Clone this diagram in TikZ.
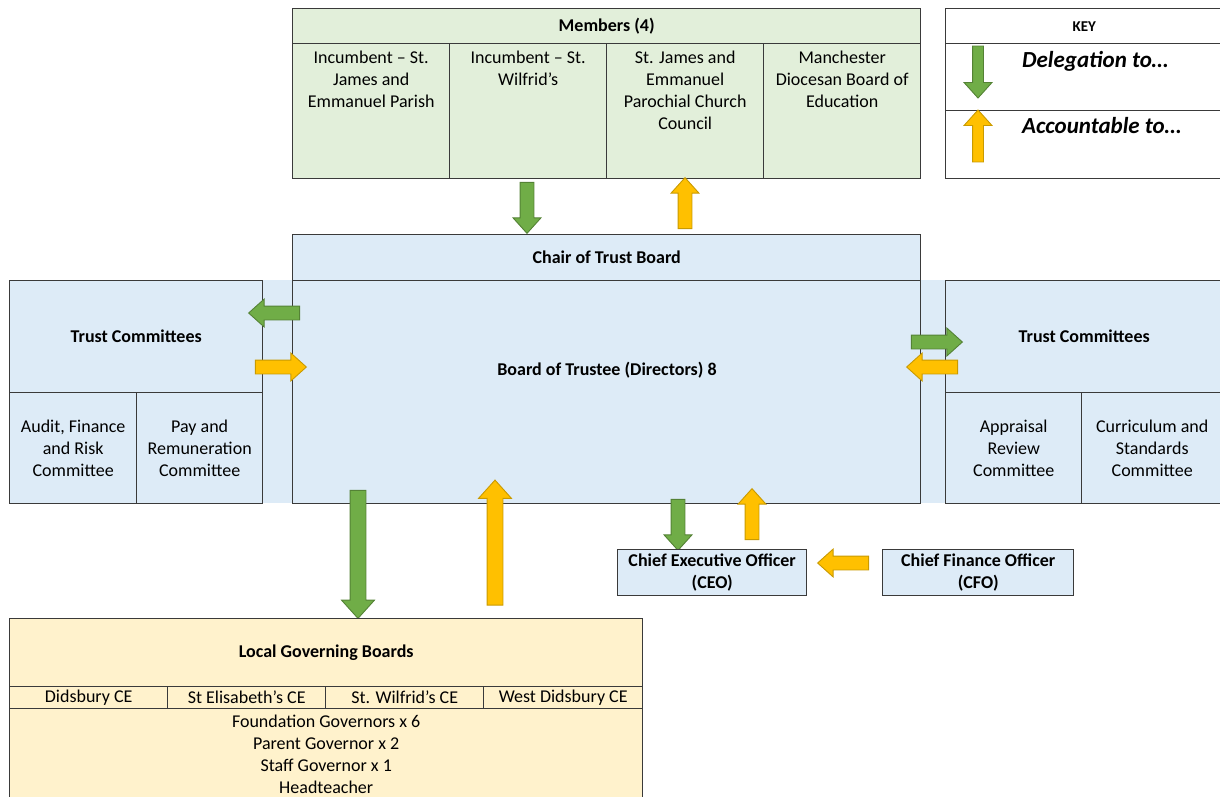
\documentclass[tikz,border=0pt]{standalone}
\usepackage{fontspec}
\setmainfont{Carlito}
\usetikzlibrary{shapes.arrows, positioning}

\definecolor{memgreen}{HTML}{E2EFDA}
\definecolor{trustblue}{HTML}{DDEBF7}
\definecolor{lgbyellow}{HTML}{FFF2CC}
\definecolor{delgreen}{HTML}{70AD47}
\definecolor{delgreenline}{HTML}{548235}
\definecolor{accorange}{HTML}{FFC000}
\definecolor{accorangeline}{HTML}{C99A00}
\definecolor{ruleline}{HTML}{3A3A3A}

\begin{document}
\begin{tikzpicture}[
  x=1pt, y=-1pt,
  font=\fontsize{18}{22}\selectfont,
  cell/.style={rectangle, draw=ruleline, line width=1.4pt, anchor=north west, inner sep=0pt},
  hdr/.style={font=\fontsize{18}{22}\selectfont\bfseries, align=center},
  txt/.style={align=center, inner sep=0pt},
  fat/.style={single arrow, single arrow tip angle=84, inner xsep=0pt, minimum width=0pt, line width=0.9pt},
  dele/.style={fat, fill=delgreen, draw=delgreenline},
  acc/.style={fat, fill=accorange, draw=accorangeline},
  small/.style={inner ysep=6.5pt, single arrow head extend=7pt, minimum height=51pt},
  big/.style={inner ysep=7.5pt, single arrow head extend=8.5pt},
  keyarr/.style={inner ysep=5pt, single arrow head extend=8.5pt, minimum height=52pt},
  keytxt/.style={font=\fontsize{23}{26}\selectfont\bfseries\itshape, inner sep=0pt, anchor=base west}
]
\useasboundingbox (0,0) rectangle (1220,796);

% band behind the trust board row
\fill[trustblue] (9,280) rectangle (1222,503);

% members
\node[cell, hdr, fill=memgreen, minimum width=628, minimum height=35] (members) at (292,8) {Members (4)};
\node[cell, fill=memgreen, minimum width=157, minimum height=135] (mem1) at (292,43) {};
\node[cell, fill=memgreen, minimum width=157, minimum height=135] (mem2) at (449,43) {};
\node[cell, fill=memgreen, minimum width=157, minimum height=135] (mem3) at (606,43) {};
\node[cell, fill=memgreen, minimum width=157, minimum height=135] (mem4) at (763,43) {};
\node[txt, below=7.5pt of mem1.north] (mem1txt) {Incumbent – St.\\James and\\Emmanuel Parish};
\node[txt, below=7.5pt of mem2.north] (mem2txt) {Incumbent – St.\\Wilfrid’s};
\node[txt, below=7.5pt of mem3.north] (mem3txt) {St. James and\\Emmanuel\\Parochial Church\\Council};
\node[txt, below=7.5pt of mem4.north] (mem4txt) {Manchester\\Diocesan Board of\\Education};

% key
\node[cell, font=\fontsize{15}{18}\selectfont\bfseries, minimum width=277, minimum height=35] (key) at (945,8) {KEY};
\node[cell, minimum width=277, minimum height=67] (keydel) at (945,43) {};
\node[cell, minimum width=277, minimum height=68] (keyacc) at (945,110) {};
\node[dele, keyarr, rotate=-90] (keydown) at (978,69) {};
\node[acc, keyarr, rotate=90] (keyup) at (978,139) {};
\node[keytxt] (keydeltxt) at (1022,67) {Delegation to…};
\node[keytxt] (keyacctxt) at (1022,133) {Accountable to…};

% members <-> chair
\node[dele, small, rotate=-90] (memdown) at (527,204) {};
\node[acc, small, rotate=90] (memup) at (685,207) {};

% trust board
\node[cell, hdr, fill=trustblue, minimum width=628, minimum height=46] (chair) at (292,234) {Chair of Trust Board};
\node[cell, fill=trustblue, minimum width=628, minimum height=223] (board) at (292,280) {};
\node[hdr] (boardtxt) at (607,370) {Board of Trustee (Directors) 8};

% committees, left
\node[cell, hdr, fill=trustblue, minimum width=253, minimum height=112] (tcleft) at (9,280) {Trust Committees};
\node[cell, txt, fill=trustblue, minimum width=127, minimum height=111] (audit) at (9,392) {Audit, Finance\\and Risk\\Committee};
\node[cell, txt, fill=trustblue, minimum width=126, minimum height=111] (payrem) at (136,392) {Pay and\\Remuneration\\Committee};

% committees, right
\node[cell, hdr, fill=trustblue, minimum width=277, minimum height=112] (tcright) at (945,280) {Trust Committees};
\node[cell, txt, fill=trustblue, minimum width=136, minimum height=111] (appraisal) at (945,392) {Appraisal\\Review\\Committee};
\node[cell, txt, fill=trustblue, minimum width=141, minimum height=111] (curric) at (1081,392) {Curriculum and\\Standards\\Committee};

% board <-> committees
\node[dele, small, rotate=180] (toleft) at (278,313) {};
\node[acc, small] (fromleft) at (277,367) {};
\node[dele, small] (toright) at (933,342) {};
\node[acc, small, rotate=180] (fromright) at (936,367) {};

% board <-> local boards
\node[dele, big, minimum height=128, rotate=-90] (tolgb) at (358,550) {};
\node[acc, big, minimum height=125, rotate=90] (fromlgb) at (495,547) {};

% officers
\node[dele, small, rotate=-90] (toceo) at (678,521) {};
\node[acc, small, rotate=90] (fromceo) at (752,518) {};
\node[cell, hdr, fill=trustblue, minimum width=189, minimum height=46] (ceo) at (617,549) {Chief Executive Officer\\(CEO)};
\node[cell, hdr, fill=trustblue, minimum width=191, minimum height=46] (cfo) at (882,549) {Chief Finance Officer\\(CFO)};
\node[acc, small, rotate=180] (fromcfo) at (847,563) {};

% local governing boards
\node[cell, hdr, fill=lgbyellow, minimum width=633, minimum height=68] (lgb) at (9,618) {Local Governing Boards};
\node[cell, txt, fill=lgbyellow, minimum width=158, minimum height=22] (didsbury) at (9,686) {Didsbury CE};
\node[cell, txt, fill=lgbyellow, minimum width=158, minimum height=22] (elisabeth) at (167,686) {St Elisabeth’s CE};
\node[cell, txt, fill=lgbyellow, minimum width=158, minimum height=22] (wilfrid) at (325,686) {St. Wilfrid’s CE};
\node[cell, txt, fill=lgbyellow, minimum width=159, minimum height=22] (westdids) at (483,686) {West Didsbury CE};
\node[cell, fill=lgbyellow, minimum width=633, minimum height=95] (lgbroles) at (9,708) {};
\node[txt, below=6.5pt of lgbroles.north] (rolestxt) {Foundation Governors x 6\\Parent Governor x 2\\Staff Governor x 1\\Headteacher};
\end{tikzpicture}
\end{document}
